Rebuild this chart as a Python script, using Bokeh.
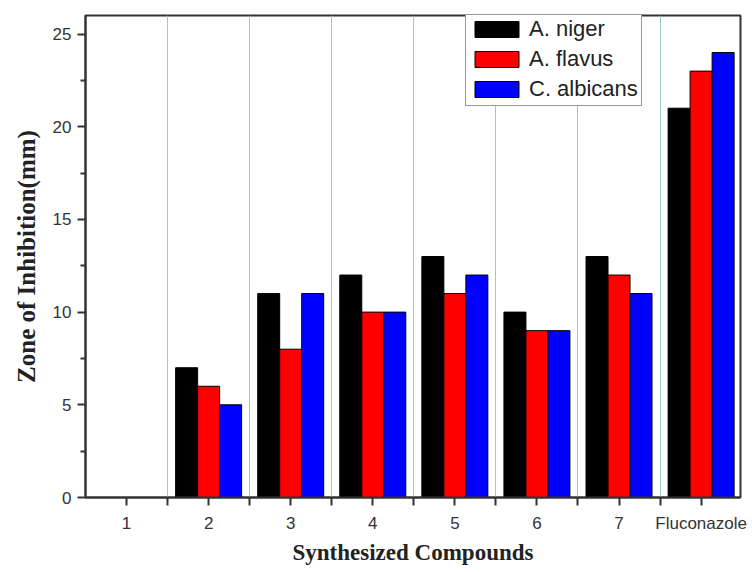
from bokeh.plotting import figure
from bokeh.models import (ColumnDataSource, Legend, LegendItem, FixedTicker, Range1d)
from bokeh.transform import dodge
from bokeh.embed import file_html
from bokeh.resources import INLINE

compounds = [1, 2, 3, 4, 5, 6, 7, 8]
tick_labels = ["1", "2", "3", "4", "5", "6", "7", "Fluconazole"]
series = ["A. niger", "A. flavus", "C. albicans"]
a_niger = [0, 7, 11, 12, 13, 10, 13, 21]
a_flavus = [0, 6, 8, 10, 11, 9, 12, 23]
c_albicans = [0, 5, 11, 10, 12, 9, 11, 24]
colors = ["#000000", "#ff0000", "#0000ff"]

src = ColumnDataSource(dict(x=compounds, a=a_niger, b=a_flavus, c=c_albicans))

p = figure(width=752, height=572, output_backend="svg", toolbar_location=None,
           x_range=Range1d(0.5, 8.48), y_range=Range1d(0, 26))
p.min_border_left = 85
p.min_border_right = 12
p.min_border_top = 15
p.min_border_bottom = 75

bw = 0.268
renderers = []
for col, off, c in zip(["a", "b", "c"], [-bw, 0, bw], colors):
    r = p.vbar(x=dodge("x", off), top=col, width=bw, bottom=0, source=src,
               fill_color=c, line_color="black", line_width=1)
    renderers.append(r)

# axes
p.xaxis.ticker = FixedTicker(ticks=compounds, minor_ticks=[1.5, 2.5, 3.5, 4.5, 5.5, 6.5, 7.5])
p.xaxis.major_label_overrides = {i: lab for i, lab in zip(compounds, tick_labels)}
p.yaxis.ticker = FixedTicker(ticks=[0, 5, 10, 15, 20, 25],
                             minor_ticks=[2.5, 7.5, 12.5, 17.5, 22.5])
for ax in [p.xaxis[0], p.yaxis[0]]:
    ax.axis_line_color = "#333333"
    ax.axis_line_width = 2
    ax.major_tick_line_color = "#333333"
    ax.major_tick_line_width = 2
    ax.minor_tick_line_color = "#333333"
    ax.minor_tick_line_width = 2
    ax.major_tick_in = 0
    ax.major_tick_out = 8
    ax.minor_tick_in = 0
    ax.minor_tick_out = 5
    ax.major_label_text_font = "Liberation Sans"
    ax.major_label_text_font_size = "17px"
    ax.major_label_text_color = "#333333"
    ax.major_label_standoff = 6
    ax.axis_label_text_font = "Liberation Serif"
    ax.axis_label_text_font_style = "bold"
    ax.axis_label_text_color = "#222222"

p.xaxis.minor_tick_out = 8
p.xaxis.major_label_standoff = 8
p.xaxis.axis_label = "Synthesized Compounds"
p.yaxis.axis_label = "Zone of Inhibition(mm)"
p.xaxis.axis_label_text_font_size = "23px"
p.yaxis.axis_label_text_font_size = "25px"
p.xaxis.axis_label_standoff = 4
p.yaxis.axis_label_standoff = 10

# grid
p.ygrid.grid_line_color = None
p.xgrid.ticker = FixedTicker(ticks=[1.5, 2.5, 3.5, 4.5, 5.5, 6.5, 7.5])
p.xgrid.grid_line_color = "#9fc8c8"
p.xgrid.grid_line_width = 1

p.outline_line_color = "#333333"
p.outline_line_width = 2
p.background_fill_color = "white"
p.border_fill_color = "white"

legend = Legend(items=[LegendItem(label=s, renderers=[r]) for s, r in zip(series, renderers)],
                location=(380, 391), orientation="vertical")
legend.glyph_width = 55
legend.glyph_height = 20
legend.label_height = 20
legend.spacing = 4
legend.padding = 3
legend.margin = 0
legend.label_standoff = 5
legend.label_text_font = "Liberation Sans"
legend.label_text_font_size = "22px"
legend.label_text_color = "#222222"
legend.border_line_color = "#333333"
legend.border_line_width = 1
legend.background_fill_alpha = 1
p.add_layout(legend, "center")

open("out.html", "w").write(file_html(p, INLINE))
